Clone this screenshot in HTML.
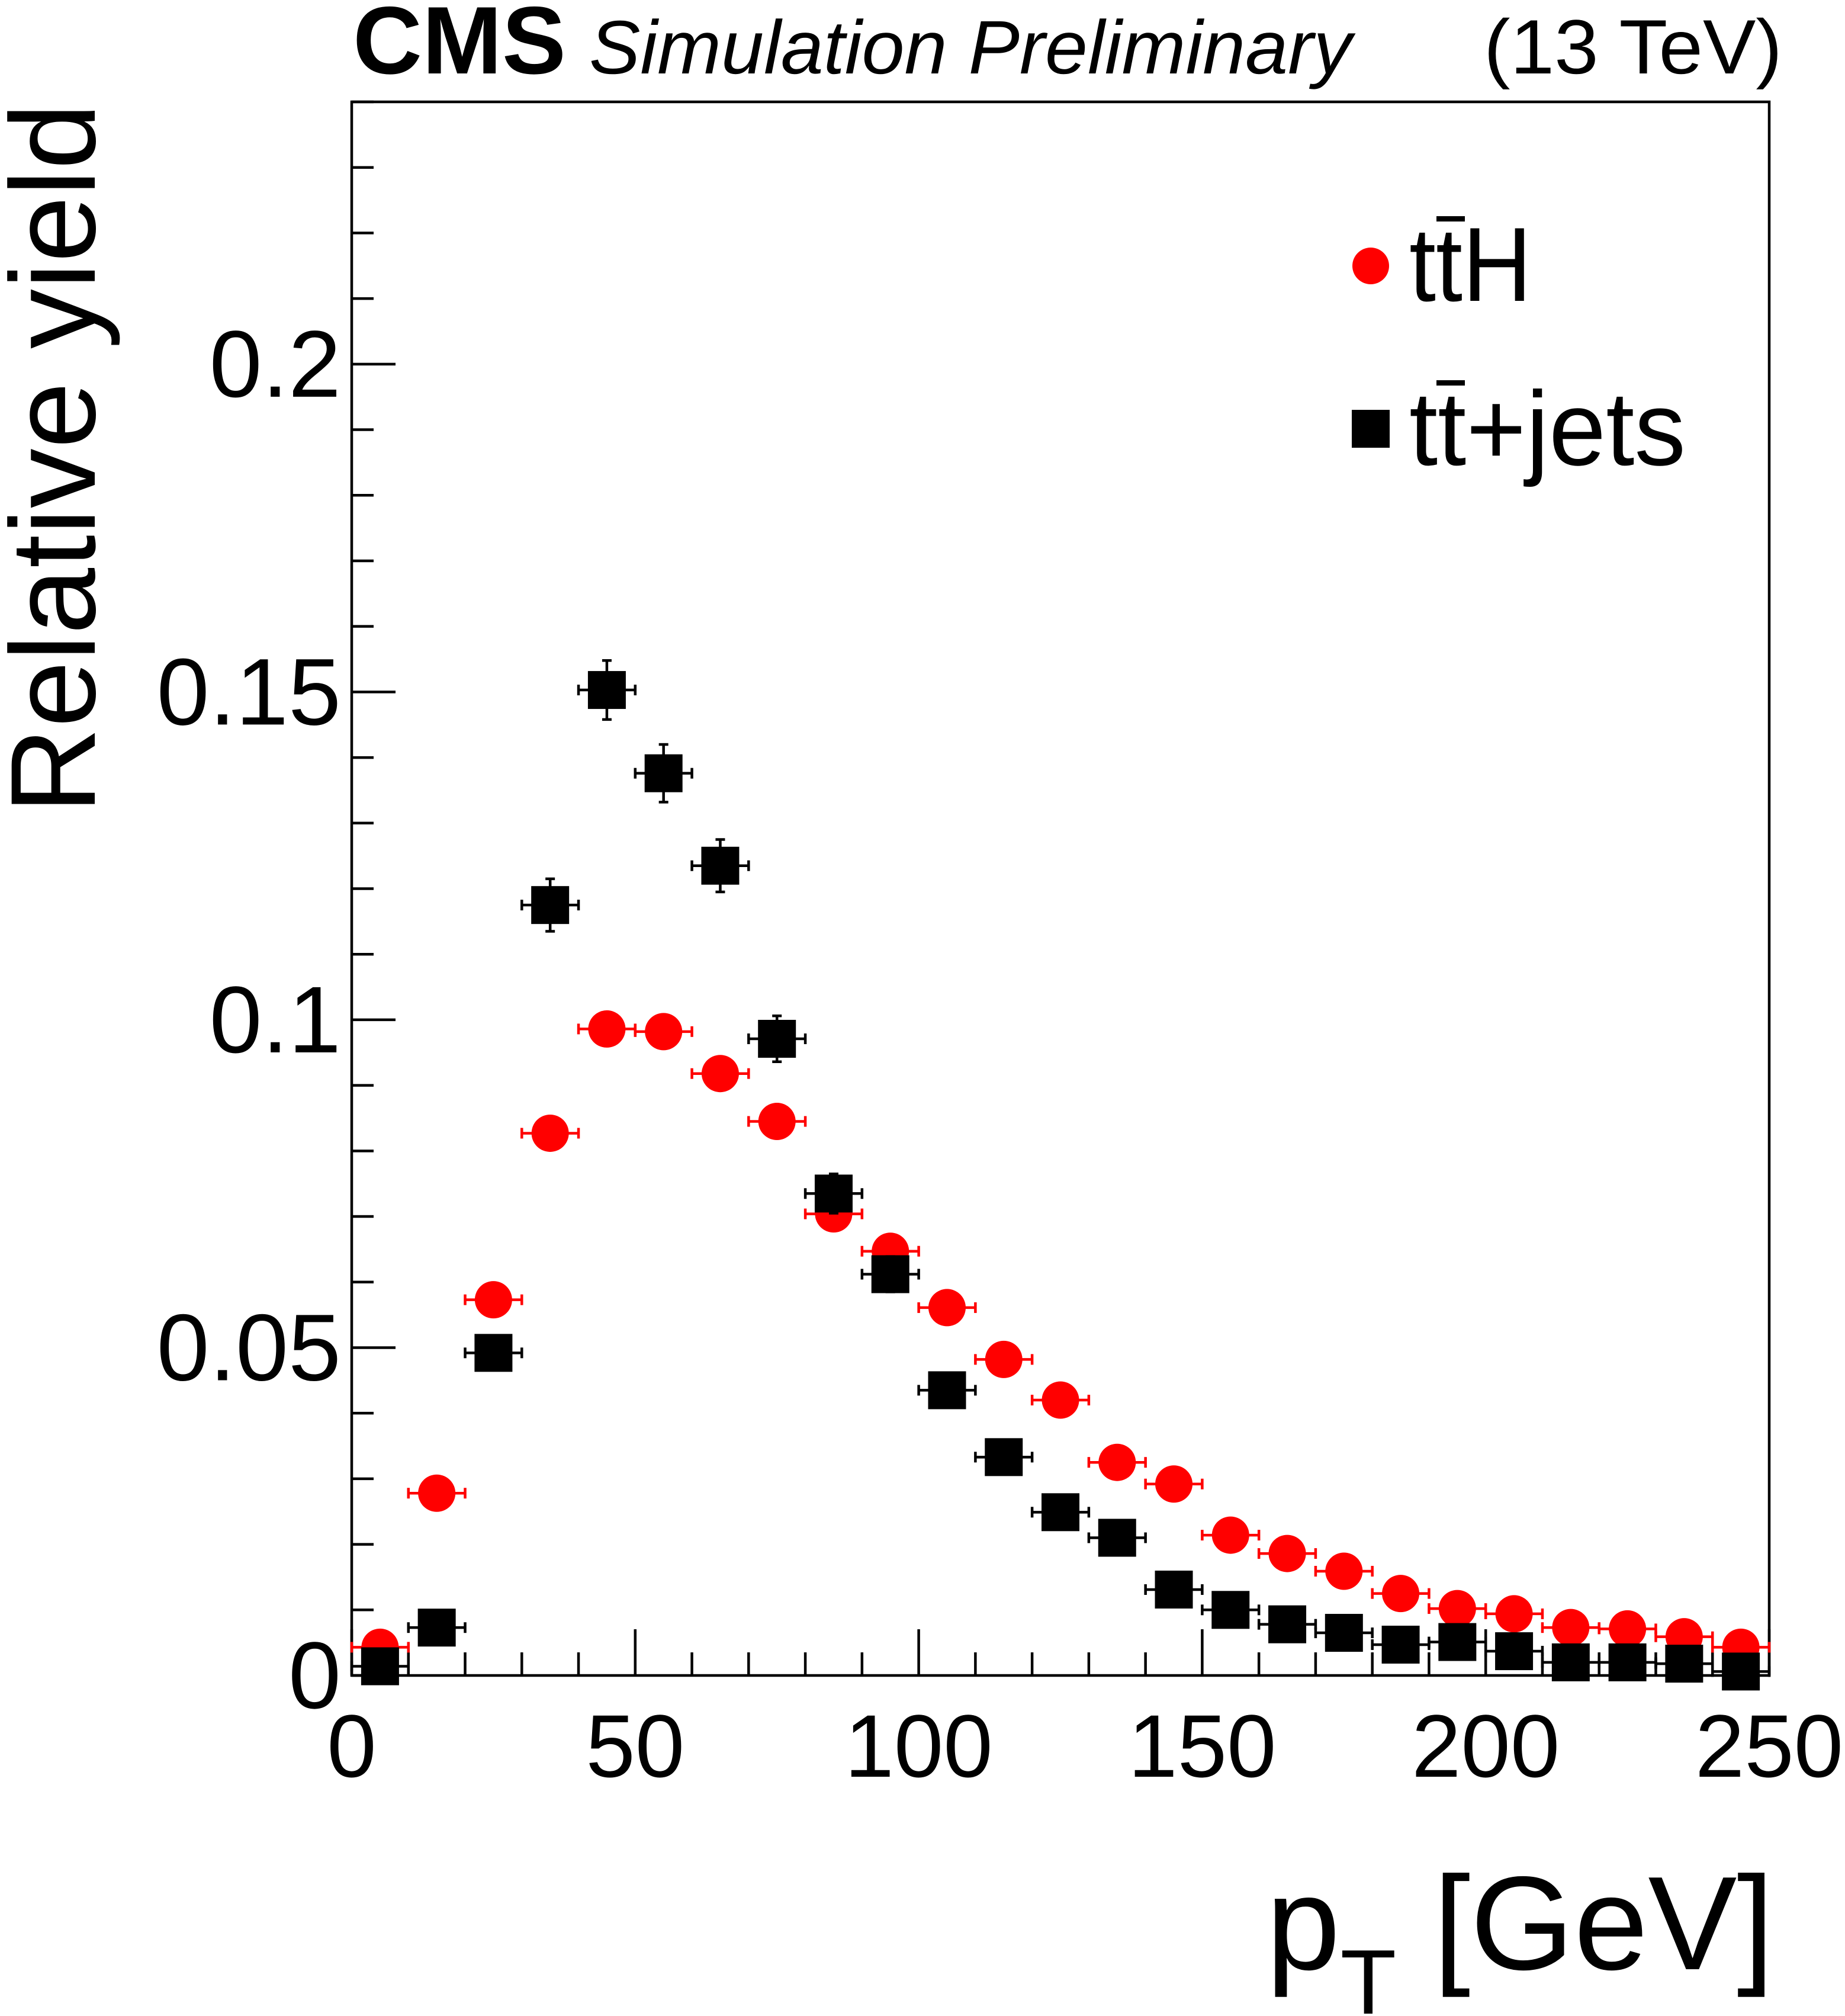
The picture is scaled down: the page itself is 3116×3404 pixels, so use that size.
<!DOCTYPE html>
<html><head><meta charset="utf-8"><style>
html,body{margin:0;padding:0;background:#fff;}
svg{display:block;font-family:"Liberation Sans",Arial,sans-serif;}
</style></head><body>
<svg id="chart" width="3116" height="3404" viewBox="0 0 3116 3404" xmlns="http://www.w3.org/2000/svg">
<rect width="3116" height="3404" fill="#fff"/>
<text x="596" y="124" font-size="162" font-weight="bold">CMS</text>
<text x="995" y="124" font-size="128" font-style="italic" textLength="1288" lengthAdjust="spacingAndGlyphs">Simulation Preliminary</text>
<text x="3010" y="124" font-size="130" text-anchor="end" textLength="504" lengthAdjust="spacingAndGlyphs">(13 TeV)</text>
<text transform="translate(160,174) rotate(-90)" font-size="204" text-anchor="end" textLength="1200" lengthAdjust="spacingAndGlyphs">Relative yield</text>
<text x="2996" y="3325" font-size="225" text-anchor="end">p<tspan font-size="155" dy="75">T</tspan><tspan dy="-75"> [GeV]</tspan></text>
<g id="axes"></g>
<g id="marks"></g>
<g>
<ellipse cx="2315" cy="449" rx="31" ry="31" fill="#f00"/>
<text x="2380" y="508" font-size="178" textLength="207" lengthAdjust="spacingAndGlyphs">ttH</text>
<rect x="2426" y="365" width="48" height="9" fill="#000"/>
<rect x="2283" y="692" width="64" height="64" fill="#000"/>
<text x="2380" y="785" font-size="178" textLength="467" lengthAdjust="spacingAndGlyphs">tt+jets</text>
<rect x="2426" y="642" width="48" height="9" fill="#000"/>
</g>
</svg>
<script>
const binCenters=[5,15,25,35,45,55,65,75,85,95,105,115,125,135,145,155,165,175,185,195,205,215,225,235,245];
const tthValues=[0.0043,0.0278,0.0573,0.0827,0.0986,0.0982,0.0918,0.0845,0.0704,0.0647,0.0561,0.0482,0.0420,0.0325,0.0292,0.0214,0.0186,0.0159,0.0125,0.0102,0.0094,0.0073,0.0071,0.0059,0.0043];
const tthErrors=[0.0005,0.001,0.0012,0.0014,0.0015,0.0015,0.0014,0.0014,0.0013,0.0012,0.0011,0.001,0.001,0.0009,0.0008,0.0007,0.0007,0.0006,0.0006,0.0005,0.0005,0.0004,0.0004,0.0004,0.0003];
const ttjetsValues=[0.0014,0.0073,0.0492,0.1175,0.1503,0.1376,0.1235,0.0971,0.0735,0.0612,0.0435,0.0333,0.0249,0.0210,0.0131,0.0100,0.0078,0.0065,0.0047,0.0051,0.0037,0.0020,0.0020,0.0018,0.0006];
const ttjetsErrors=[0.0005,0.0012,0.0025,0.004,0.0045,0.0044,0.004,0.0035,0.003,0.0027,0.0022,0.002,0.0017,0.0016,0.0012,0.001,0.0009,0.0008,0.0007,0.0007,0.0006,0.0004,0.0004,0.0004,0.0003];
const binHalfWidth=5;
const xTickLabels=["0","50","100","150","200","250"];
const yTickLabels=["0","0.05","0.1","0.15","0.2"];
const xTickValues=[0,50,100,150,200,250];
const yTickValues=[0,0.05,0.1,0.15,0.2];

const X0=594,X1=2988,Y0=2829,Y1=172,XMAX=250,YMAX=0.24;
const sx=v=>X0+(v/XMAX)*(X1-X0);
const sy=v=>Y0-(v/YMAX)*(Y0-Y1);
const NS="http://www.w3.org/2000/svg";
function mk(tag,attrs,parent){const e=document.createElementNS(NS,tag);for(const k in attrs)e.setAttribute(k,attrs[k]);parent.appendChild(e);return e;}
const axes=document.getElementById('axes');
const marks=document.getElementById('marks');

let f=mk('rect',{x:X0,y:Y1,width:X1-X0,height:Y0-Y1,fill:'none',stroke:'#000','stroke-width':4.5},axes);



for(let v=0;v<=XMAX+0.001;v+=10){
  const major=Math.abs(v%50)<0.001;
  const t=mk('line',{x1:sx(v),x2:sx(v),y1:Y0,y2:Y0-(major?78:39),stroke:'#000','stroke-width':4.5},axes);
  
  
}
for(let i=0;i<=24;i++){
  const v=i*0.01;
  const major=i%5===0;
  const t=mk('line',{x1:X0,x2:X0+(major?74:37),y1:sy(v),y2:sy(v),stroke:'#000','stroke-width':4.5},axes);
  
  
}
xTickValues.forEach((v,i)=>{
  const t=mk('text',{x:sx(v),y:3000,'font-size':150,'text-anchor':'middle'},axes);
  t.textContent=xTickLabels[i];
  
  
});
yTickValues.forEach((v,i)=>{
  const t=mk('text',{x:576,y:sy(v)+55,'font-size':160,'text-anchor':'end'},axes);
  t.textContent=yTickLabels[i];
  
  
});

function drawSeries(vals,errs,color,shape,name){
  binCenters.forEach((c,i)=>{
    const g=mk('g',{},marks);
    
    
    const cx=sx(c),cy=sy(vals[i]);
    const xl=sx(c-binHalfWidth),xr=sx(c+binHalfWidth);
    const yt=sy(vals[i]+errs[i]),yb=sy(Math.max(0,vals[i]-errs[i]));
    const sw=4.5;
    mk('line',{x1:xl,x2:xr,y1:cy,y2:cy,stroke:color,'stroke-width':sw},g);
    mk('line',{x1:xl,x2:xl,y1:cy-9,y2:cy+9,stroke:color,'stroke-width':sw},g);
    mk('line',{x1:xr,x2:xr,y1:cy-9,y2:cy+9,stroke:color,'stroke-width':sw},g);
    mk('line',{x1:cx,x2:cx,y1:yt,y2:yb,stroke:color,'stroke-width':sw},g);
    mk('line',{x1:cx-8,x2:cx+8,y1:yt,y2:yt,stroke:color,'stroke-width':sw},g);
    mk('line',{x1:cx-8,x2:cx+8,y1:yb,y2:yb,stroke:color,'stroke-width':sw},g);
    if(shape==='circle') mk('circle',{cx:cx,cy:cy,r:31.5,fill:color},g);
    else mk('rect',{x:cx-32,y:cy-32,width:64,height:64,fill:color},g);
  });
}
drawSeries(tthValues,tthErrors,'#f00','circle','tth');
drawSeries(ttjetsValues,ttjetsErrors,'#000','square','ttjets');
</script>
</body></html>
